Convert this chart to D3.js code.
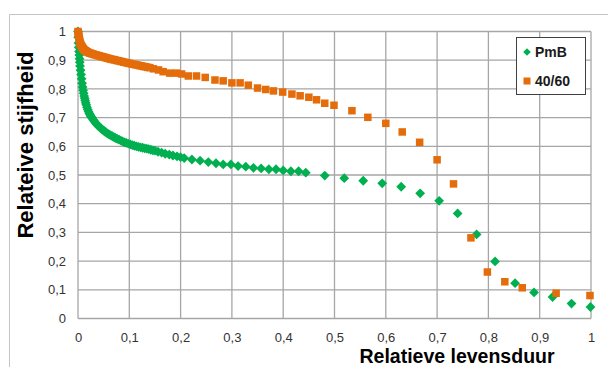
<!DOCTYPE html>
<html><head><meta charset="utf-8">
<script src="https://cdn.jsdelivr.net/npm/d3@7"></script>
<style>html,body{margin:0;padding:0;background:#fff;}svg{display:block;font-family:"Liberation Sans",Arial,sans-serif;}</style>
</head><body>
<svg id="c" width="608" height="367"></svg>
<script>
const xTicks = [0,0.1,0.2,0.3,0.4,0.5,0.6,0.7,0.8,0.9,1];
const yTicks = [0,0.1,0.2,0.3,0.4,0.5,0.6,0.7,0.8,0.9,1];
const seriesNames = ["PmB","40/60"];
// [relatieve levensduur, relatieve stijfheid]
const pmbPoints = [
 [0,1.0],[0.0005,0.98],[0.001,0.96],[0.0015,0.945],[0.002,0.93],[0.0025,0.918],[0.003,0.905],[0.0035,0.893],[0.004,0.88],
 [0.005,0.865],[0.006,0.85],[0.007,0.835],[0.008,0.82],[0.009,0.807],[0.010,0.795],[0.011,0.785],[0.012,0.775],[0.013,0.767],
 [0.014,0.76],[0.015,0.752],[0.016,0.745],[0.0175,0.736],[0.019,0.728],[0.0205,0.721],[0.022,0.715],[0.0235,0.71],[0.025,0.705],
 [0.0265,0.701],[0.028,0.697],[0.030,0.692],[0.032,0.687],[0.034,0.682],[0.036,0.678],[0.038,0.674],[0.040,0.67],[0.0425,0.666],
 [0.045,0.662],[0.0475,0.658],[0.050,0.655],[0.0525,0.651],[0.055,0.648],[0.058,0.644],[0.061,0.641],[0.064,0.638],[0.067,0.635],
 [0.070,0.632],[0.073,0.629],[0.0765,0.626],[0.080,0.623],[0.0835,0.62],[0.087,0.617],[0.0905,0.614],[0.094,0.612],[0.098,0.609],
 [0.102,0.607],[0.106,0.604],[0.110,0.602],[0.114,0.6],[0.118,0.598],[0.122,0.596],[0.126,0.595],[0.130,0.593],[0.134,0.592],
 [0.138,0.59],[0.142,0.588],[0.146,0.586],[0.150,0.585],[0.156,0.581],[0.163,0.578],[0.170,0.574],[0.178,0.571],[0.185,0.568],
 [0.193,0.565],[0.200,0.562],[0.207,0.559],
 [0.222,0.554],[0.238,0.550],[0.254,0.545],[0.269,0.541],[0.283,0.537],[0.298,0.537],[0.312,0.531],[0.327,0.529],[0.342,0.525],
 [0.357,0.523],[0.372,0.520],[0.386,0.520],[0.400,0.516],[0.415,0.513],[0.430,0.513],[0.444,0.508],[0.481,0.498],[0.519,0.489],
 [0.556,0.480],[0.593,0.471],[0.630,0.459],[0.667,0.436],[0.704,0.410],[0.740,0.366],[0.777,0.293],[0.813,0.199],[0.852,0.123],
 [0.889,0.091],[0.925,0.075],[0.962,0.052],[0.999,0.040]];
const b4060Points = [
 [0,1.0],[0.0005,0.995],[0.001,0.99],[0.0015,0.985],[0.002,0.98],[0.0025,0.975],[0.003,0.97],[0.0035,0.965],[0.004,0.96],
 [0.005,0.956],[0.006,0.952],[0.007,0.949],[0.008,0.946],[0.009,0.943],[0.010,0.94],[0.0115,0.937],[0.013,0.935],[0.0145,0.933],
 [0.016,0.931],[0.018,0.929],[0.020,0.927],[0.0225,0.925],[0.025,0.924],[0.0275,0.922],[0.030,0.921],[0.033,0.919],[0.036,0.918],
 [0.039,0.916],[0.042,0.915],[0.045,0.913],[0.048,0.912],[0.051,0.91],[0.054,0.909],[0.057,0.907],[0.060,0.906],[0.063,0.904],
 [0.066,0.903],[0.069,0.902],[0.072,0.901],[0.0755,0.899],[0.079,0.898],[0.0825,0.896],[0.086,0.895],[0.0895,0.893],[0.093,0.892],
 [0.0965,0.89],[0.100,0.889],[0.104,0.887],[0.108,0.886],[0.112,0.884],[0.116,0.883],[0.120,0.881],[0.124,0.88],[0.128,0.878],
 [0.132,0.877],[0.136,0.875],[0.140,0.874],[0.147,0.870],[0.157,0.866],[0.166,0.860],[0.179,0.855],[0.192,0.855],[0.202,0.852],
 [0.215,0.845],[0.231,0.845],[0.248,0.840],[0.267,0.831],[0.283,0.828],[0.300,0.821],[0.316,0.821],[0.332,0.813],[0.350,0.803],
 [0.366,0.798],[0.381,0.793],[0.399,0.789],[0.417,0.782],[0.433,0.776],[0.450,0.771],[0.465,0.762],[0.481,0.750],[0.499,0.743],
 [0.534,0.724],[0.565,0.701],[0.600,0.680],[0.632,0.650],[0.666,0.614],[0.700,0.553],[0.732,0.469],[0.766,0.281],[0.798,0.162],
 [0.832,0.128],[0.866,0.107],[0.932,0.088],[0.998,0.080]];

const svg = d3.select("#c");
const L = 78, R = 591, T = 31.5, B = 318.5;
const x = d3.scaleLinear().domain([0,1]).range([L,R]);
const y = d3.scaleLinear().domain([0,1]).range([B,T]);
const fmt = d => String(+d.toFixed(1)).replace(".", ",");
const gridCol = "#a6a6a6";

// outer frame
svg.append("path").attr("d","M9.5,367 L9.5,14.5 L608,14.5").attr("fill","none").attr("stroke","#c4c4c4").attr("stroke-width",1);

// grid
svg.append("g").selectAll("line").data(yTicks).join("line")
  .attr("x1",L).attr("x2",R).attr("y1",d=>y(d)).attr("y2",d=>y(d))
  .attr("stroke",gridCol).attr("stroke-width",1.3);
svg.append("g").selectAll("line").data(xTicks).join("line")
  .attr("y1",T).attr("y2",B).attr("x1",d=>x(d)).attr("x2",d=>x(d))
  .attr("stroke",gridCol).attr("stroke-width",1.3);

// axes labels via d3 axes
const xAxis = svg.append("g").attr("transform",`translate(0,${B})`)
  .call(d3.axisBottom(x).tickValues(xTicks).tickFormat(fmt).tickSize(0).tickPadding(14));
const yAxis = svg.append("g").attr("transform",`translate(${L},0)`)
  .call(d3.axisLeft(y).tickValues(yTicks).tickFormat(fmt).tickSize(0).tickPadding(12));
[xAxis,yAxis].forEach(a=>{a.select(".domain").remove();
  a.selectAll("text").attr("font-size",13).attr("fill","#333").attr("font-family","Liberation Sans, Arial, sans-serif");});

// series
const diamond = s => `M0,${-s}L${s},0L0,${s}L${-s},0Z`;
const green = "#00b050", orange = "#e46c0a";
svg.append("g").selectAll("path").data(pmbPoints).join("path")
  .attr("d",diamond(4.9)).attr("fill",green)
  .attr("transform",d=>`translate(${x(d[0])},${y(d[1])})`);
svg.append("g").selectAll("rect").data(b4060Points).join("rect")
  .attr("width",7.5).attr("height",7.5).attr("fill",orange)
  .attr("x",d=>x(d[0])-3.75).attr("y",d=>y(d[1])-3.75);

// axis titles
svg.append("text").attr("x",457).attr("y",362.5).attr("text-anchor","middle")
  .attr("font-size",19.5).attr("font-weight","bold").attr("fill","#000").text("Relatieve levensduur");
svg.append("text").attr("transform","translate(33,145) rotate(-90)").attr("text-anchor","middle")
  .attr("font-size",22).attr("font-weight","bold").attr("fill","#000").text("Relateive stijfheid");

// legend
const lg = svg.append("g");
lg.append("rect").attr("x",516.5).attr("y",37.5).attr("width",69).attr("height",57).attr("fill","#fff").attr("stroke","#404040").attr("stroke-width",1);
lg.append("path").attr("d",diamond(3.8)).attr("fill",green).attr("transform","translate(527,52)");
lg.append("rect").attr("x",523.5).attr("y",77.5).attr("width",7).attr("height",7).attr("fill",orange);
lg.append("text").attr("x",535).attr("y",57).attr("font-size",14).attr("font-weight","bold").attr("fill","#1a1a1a").text(seriesNames[0]);
lg.append("text").attr("x",535).attr("y",86).attr("font-size",14).attr("font-weight","bold").attr("fill","#1a1a1a").text(seriesNames[1]);
</script>
</body></html>
